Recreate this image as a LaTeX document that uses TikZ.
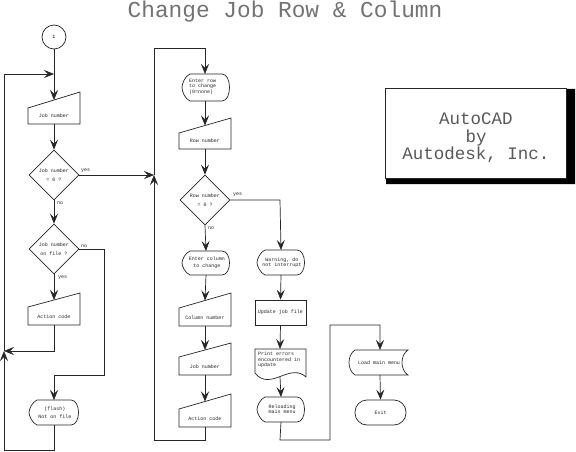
\documentclass[tikz,border=0pt]{standalone}
\usepackage{fontspec}
\setmonofont{Liberation Mono}
\usetikzlibrary{arrows.meta,shapes.geometric,calc}
\tikzset{
  ln/.style={draw=black!85, line width=0.7pt},
  arr/.style={ln, -{Stealth[length=10pt,width=8pt,inset=4pt]}},
  shp/.style={draw=black!85, line width=0.7pt},
  tiny/.style={font=\ttfamily\fontsize{5}{5.4}\selectfont, inner sep=0, align=center, text=black!85},
  tinyl/.style={tiny, align=left},
  dia/.style={diamond, shp, minimum width=50pt, minimum height=50pt, inner sep=0, align=center, font=\ttfamily\fontsize{5}{9}\selectfont, text=black!85},
  lbl/.style={font=\ttfamily\fontsize{5}{5}\selectfont, inner sep=0, text=black!85},
}
% manual input: name, cx, top-right y, top-left y, bottom y, text
\newcommand\mkInput[6]{%
  \draw[shp] (#2-26,#5) -- (#2+26,#5) -- (#2+26,#3) -- (#2-26,#4) -- cycle;
  \node[tiny] (#1) at (#2,#5-8) {#6};
  \coordinate (#1-t) at (#2,{(#3+#4)/2});
  \coordinate (#1-b) at (#2,#5);
}
% display: name, x0, x1, top, bottom, text
\newcommand\mkDisplay[6]{%
  \draw[shp] (#2+8,#4) -- (#3-8,#4) .. controls (#3+2,#4) and (#3+2,#5) .. (#3-8,#5)
    -- (#2+8,#5) .. controls (#2+3,#5-2) and (#2,{(#4+#5)/2+3}) .. (#2,{(#4+#5)/2})
    .. controls (#2,{(#4+#5)/2-3}) and (#2+3,#4+2) .. (#2+8,#4);
  \node[tiny] (#1) at ({(#2+#3)/2+1},{(#4+#5)/2}) {#6};
  \coordinate (#1-t) at ({(#2+#3)/2},#4);
  \coordinate (#1-b) at ({(#2+#3)/2},#5);
}
\begin{document}
\begin{tikzpicture}[x=1pt,y=-1pt]
\useasboundingbox (0,0) rectangle (576,452);
\fill[white] (0,0) rectangle (576,452);

% title
\node[font=\ttfamily\fontsize{22.8}{22.8}\selectfont, text=black!55, inner sep=0] (title) at (285,12) {Change Job Row \& Column};

% AutoCAD box
\fill[black] (566,89) -- (575,89) -- (575,184) -- (386,184) -- (386,178) -- (566,178) -- cycle;
\node[draw=black!85, line width=0.7pt, minimum width=181pt, minimum height=90pt, inner sep=0] (acad) at (475.5,133) {};
\node[font=\ttfamily\fontsize{17.5}{17.5}\selectfont, text=black!65, align=center, inner sep=0] (acadtxt) at (476,138) {AutoCAD\\by\\Autodesk, Inc.};

% ---------- left column ----------
\node[circle, shp, minimum size=24pt, inner sep=0, font=\ttfamily\fontsize{5}{5}\selectfont] (c1) at (54,37) {1};
\coordinate (J0) at (54,74);
\coordinate (L0) at (4,74);
\mkInput{jn1}{54}{92}{108}{124}{Job number}
\node[dia] (d1) at (54,175) {Job number\\= 0 ?};
\node[dia] (d2) at (54,249) {Job number\\on file ?};
\mkInput{ac1}{54}{293}{307}{325}{Action code}
\mkDisplay{fl}{29}{79}{400}{425}{(flash)\\[3pt]Not on file}
\coordinate (J1) at (54,351);
\coordinate (L1) at (4,351);
\coordinate (Lb1) at (54,450);
\coordinate (Lb2) at (4,450);
\coordinate (N1) at (104,249);
\coordinate (N2) at (104,375);
\coordinate (N3) at (54,375);

\node[lbl, anchor=west] (y1) at (81,171) {yes};
\node[lbl, anchor=west] (n1) at (57,203) {no};
\node[lbl, anchor=west] (n2) at (81,246) {no};
\node[lbl, anchor=west] (y2) at (58,278) {yes};

\draw[arr] (c1.south) -- (jn1-t);
\draw[arr] (L0) -- (J0);
\draw[arr] (jn1-b) -- (d1.north);
\draw[arr] (d1.south) -- (d2.north);
\draw[arr] (d2.south) -- (ac1-t);
\draw[arr] (ac1-b) -- (J1) -- (L1);
\draw[arr] (d2.east) -- (N1) -- (N2) -- (N3) -- (fl-t);
\draw[arr] (fl-b) -- (Lb1) -- (Lb2) -- (L1);
\draw[ln] (L1) -- (L0);

% ---------- middle column ----------
\coordinate (M1) at (154,175);
\coordinate (M2) at (205,440);
\coordinate (M3) at (154,440);
\coordinate (M4) at (154,48);
\coordinate (M5) at (205,48);
\draw[shp] (190,74) -- (222,74) .. controls (232,74) and (232,101) .. (222,101)
  -- (190,101) .. controls (185,99) and (182,91.5) .. (182,87.5)
  .. controls (182,83.5) and (185,76) .. (190,74);
\node[tinyl, anchor=west] (er) at (189,86.5) {Enter row\\to change\\(0=none)};
\coordinate (er-t) at (205,74);
\coordinate (er-b) at (205,101);
\mkInput{rn}{205}{118}{133}{149}{Row number}
\node[dia] (d3) at (205,200) {Row number\\= 0 ?};
\mkDisplay{ec}{182}{230}{251}{275}{Enter column\\[2pt]to change}
\mkInput{cn}{205}{293}{308}{326}{Column number}
\mkInput{jn2}{205}{343}{357}{375}{Job number}
\mkInput{ac2}{205}{394}{409}{427}{Action code}
\node[lbl, anchor=west] (y3) at (233,195) {yes};
\node[lbl, anchor=west] (n3) at (208,228) {no};

\draw[arr] (d1.east) -- (M1);
\draw[arr] (ac2-b) -- (M2) -- (M3) -- (M1);
\draw[arr] (M1) -- (M4) -- (M5) -- (er-t);
\draw[arr] (er-b) -- (rn-t);
\draw[arr] (rn-b) -- (d3.north);
\draw[arr] (d3.south) -- (ec-t);
\draw[arr] (ec-b) -- (cn-t);
\draw[arr] (cn-b) -- (jn2-t);
\draw[arr] (jn2-b) -- (ac2-t);

% ---------- right column ----------
\coordinate (R1) at (280,200);
\mkDisplay{wn}{257}{305}{250}{275}{Warning, do\\not interrupt}
\node[shp, minimum width=51pt, minimum height=25pt, inner sep=0, font=\ttfamily\fontsize{5}{5}\selectfont, text=black!85] (up) at (280.5,312.5) {Update job file};
\draw[shp] (255,349) -- (306,349) -- (306,377) .. controls (290,362) and (270,392) .. (255,373) -- cycle;
\node[tinyl, anchor=north west] (doc) at (258,352) {Print errors\\encountered in\\update};
\coordinate (doc-t) at (280,349);
\coordinate (doc-b) at (280,376.5);
\mkDisplay{rl}{257}{305}{397}{422}{Reloading\\main menu}
\coordinate (R2) at (280,440);
\coordinate (R3) at (330,440);
\coordinate (R4) at (330,325);
\coordinate (R5) at (380,325);
\draw[shp] (355,350) -- (408,350) .. controls (400,355) and (400,370) .. (408,375) -- (355,375) .. controls (347,370) and (347,355) .. (355,350) -- cycle;
\node[tiny] (lm) at (379,362.5) {Load main menu};
\coordinate (lm-t) at (380,350);
\coordinate (lm-b) at (380,375);
\node[shp, rounded corners=12pt, minimum width=51pt, minimum height=25pt, inner sep=0, font=\ttfamily\fontsize{5}{5}\selectfont, text=black!85] (exit) at (380.5,412.5) {Exit};

\draw[arr] (d3.east) -- (R1) -- (wn-t);
\draw[arr] (wn-b) -- (up.north);
\draw[arr] (up.south) -- (doc-t);
\draw[arr] (doc-b) -- (rl-t);
\draw[arr] (rl-b) -- (R2) -- (R3) -- (R4) -- (R5) -- (lm-t);
\draw[arr] (lm-b) -- (exit.north);
\end{tikzpicture}
\end{document}
